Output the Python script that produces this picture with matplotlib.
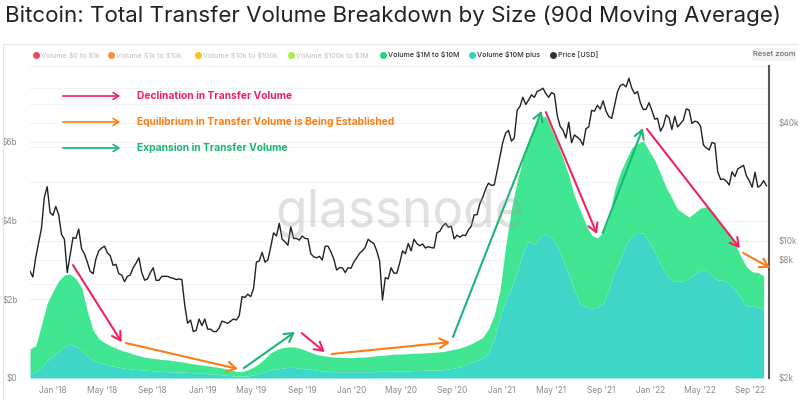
import numpy as np
import pandas as pd
import matplotlib
matplotlib.use("Agg")
import matplotlib.pyplot as plt
import matplotlib.dates as mdates
from matplotlib.lines import Line2D
from matplotlib.patches import Rectangle, FancyBboxPatch, FancyArrowPatch
from matplotlib.transforms import blended_transform_factory

plt.rcParams['font.family'] = ['Inter', 'DejaVu Sans']

# --- data -------------------------------------------------------------
# BTC price, weekly from 2017-11-06
price_2017 = [7000, 6550, 8250, 9800, 11600, 16700, 18900, 14000]
price_2018 = [13500, 15000, 13600, 10800, 10200, 6900, 8500, 10400, 10300,
              11500, 9100, 8600, 7800, 7000, 6800, 8100, 8900, 9200, 9400,
              8700, 8400, 7500, 7600, 6800, 6700, 6200, 6600, 6700, 7300,
              7700, 8200, 6900, 6300, 6400, 6900, 7300, 6300, 6300, 6600,
              6600, 6600, 6500, 6450, 6350, 6400, 6350, 4700, 3800, 3950,
              3450, 3500, 4000, 3700]
price_2019 = [4000, 3550, 3550, 3450, 3450, 3600, 3900, 3850, 3800, 3900,
              4000, 3950, 4150, 5200, 5150, 5350, 5200, 5700, 7800, 7900,
              8750, 7800, 8000, 9300, 11000, 10600, 12300, 10200, 9900, 9500,
              11800, 10300, 10300, 10100, 10600, 10300, 10250, 8600, 8300,
              8200, 8350, 8000, 9400, 9400, 8800, 8100, 7100, 7300, 7300,
              6900, 7300, 7250]
price_2020 = [7800, 8200, 8650, 8900, 9300, 10200, 9900, 9700, 8900, 7900,
              5000, 6500, 6400, 7300, 6850, 6850, 7700, 8900, 8600, 9700,
              8900, 10200, 9700, 9450, 9650, 9200, 9350, 9250, 9200, 11000,
              11200, 11900, 12300, 11750, 11900, 10250, 10700, 10450, 10700,
              10650, 11400, 11900, 13600, 13600, 15500, 16700, 18400, 19700,
              19200, 19300, 22700, 27000]
price_2021 = [31900, 35500, 36600, 32300, 33500, 46400, 48600, 54000, 49600,
              52300, 55600, 54000, 57900, 58700, 60100, 56500, 54000, 57100,
              56000, 43500, 38400, 36700, 33500, 40300, 31700, 34700, 33800,
              32800, 30800, 37300, 38200, 46300, 45900, 49200, 47000, 51800,
              46000, 43000, 42200, 49100, 57500, 62000, 63000, 61000, 67500,
              60200, 56300, 57800, 50600, 46800, 46900, 50700]
price_2022 = [46400, 41800, 42200, 36300, 38500, 43900, 42500, 37000, 43200,
              38100, 39700, 41300, 47100, 46600, 39700, 40800, 40400, 38500,
              30900, 29800, 29100, 31800, 31400, 22500, 20600, 20700, 20200,
              19300, 22500, 21300, 23300, 23800, 24300, 21500, 20300, 18800,
              22400, 18800, 19200, 20300, 19100]
price = price_2017 + price_2018 + price_2019 + price_2020 + price_2021 + price_2022
price_dates = pd.date_range("2017-11-06", periods=len(price), freq="7D")

# transfer volume (90d MA), USD billions, every 14 days from 2017-11-06
vol_10m_plus = [
    0.13, 0.15, 0.28, 0.44, 0.56, 0.68, 0.80, 0.86, 0.80, 0.72,
    0.55, 0.45, 0.39, 0.35, 0.31, 0.29, 0.26, 0.24, 0.22, 0.21,
    0.20, 0.19, 0.18, 0.17, 0.16, 0.16, 0.15, 0.15, 0.14, 0.13,
    0.13, 0.11, 0.10, 0.09, 0.07, 0.06, 0.05, 0.05, 0.05, 0.08,
    0.12, 0.16, 0.20, 0.23, 0.25, 0.27, 0.27, 0.25, 0.23, 0.22,
    0.20, 0.18, 0.17, 0.16, 0.16, 0.16, 0.16, 0.16, 0.16, 0.16,
    0.16, 0.17, 0.17, 0.17, 0.18, 0.18, 0.18, 0.19, 0.19, 0.20,
    0.20, 0.20, 0.21, 0.23, 0.25, 0.28, 0.34, 0.40, 0.45, 0.50,
    0.65, 1.00, 1.55, 2.00, 2.30, 2.67, 3.20, 3.48, 3.40, 3.58,
    3.66, 3.58, 3.35, 3.00, 2.65, 2.20, 1.88, 1.80, 1.78, 1.80,
    1.90, 2.25, 2.70, 3.00, 3.40, 3.60, 3.70, 3.68, 3.47, 3.20,
    2.90, 2.62, 2.48, 2.45, 2.47, 2.54, 2.64, 2.75, 2.75, 2.60,
    2.49, 2.49, 2.38, 2.25, 2.04, 1.82, 1.84, 1.80, 1.74]
# top of the stack ($1M to $10M on top of $10M plus)
vol_1m_plus = [
    0.74, 0.82, 1.35, 1.90, 2.20, 2.47, 2.62, 2.64, 2.53, 2.30,
    1.70, 1.22, 1.00, 0.90, 0.82, 0.76, 0.70, 0.66, 0.61, 0.57,
    0.53, 0.51, 0.49, 0.47, 0.46, 0.44, 0.42, 0.40, 0.37, 0.35,
    0.33, 0.31, 0.29, 0.27, 0.24, 0.21, 0.17, 0.16, 0.21, 0.28,
    0.37, 0.50, 0.64, 0.72, 0.77, 0.79, 0.79, 0.76, 0.71, 0.65,
    0.60, 0.57, 0.55, 0.53, 0.53, 0.52, 0.52, 0.53, 0.53, 0.54,
    0.56, 0.57, 0.58, 0.60, 0.61, 0.61, 0.62, 0.63, 0.63, 0.64,
    0.65, 0.66, 0.67, 0.70, 0.73, 0.76, 0.81, 0.87, 0.95, 1.03,
    1.25, 1.60, 2.22, 3.35, 4.30, 5.00, 5.55, 5.97, 6.35, 6.63,
    6.65, 6.30, 5.97, 5.58, 5.15, 4.62, 4.27, 3.90, 3.63, 3.56,
    3.70, 4.05, 4.78, 5.22, 5.55, 5.85, 5.96, 6.03, 5.78, 5.54,
    5.20, 4.85, 4.57, 4.29, 4.19, 4.09, 4.20, 4.32, 4.35, 4.25,
    4.02, 3.85, 3.67, 3.43, 3.10, 2.83, 2.70, 2.68, 2.60]
vol_dates = pd.date_range("2017-11-06", periods=len(vol_10m_plus), freq="14D")

# annotation arrows: (start date, start $b, end date, end $b)
arrows_decline = [("2018-02-19", 2.87, "2018-06-18", 0.91),
                  ("2019-09-01", 1.14, "2019-10-27", 0.66),
                  ("2021-04-19", 6.76, "2021-08-22", 3.66),
                  ("2021-12-22", 6.33, "2022-08-06", 3.30)]
arrows_equil = [("2018-06-28", 0.89, "2019-03-29", 0.23),
                ("2019-11-13", 0.61, "2020-08-28", 0.91),
                ("2022-08-14", 3.18, "2022-10-19", 2.80)]
arrows_expand = [("2019-04-12", 0.25, "2019-08-15", 1.17),
                 ("2020-09-04", 1.04, "2021-04-09", 6.79),
                 ("2021-09-05", 3.68, "2021-12-12", 6.35)]

legend_names = ["Volume $0 to $1k", "Volume $1k to $10k", "Volume $10k to $100k",
                "Volume $100k to $1M", "Volume $1M to $10M", "Volume $10M plus",
                "Price [USD]"]
legend_colors = ["#f5455c", "#fb8c3c", "#fcc419", "#a6ee45", "#1fd67e",
                 "#2fd3c2", "#333333"]
legend_active = [False, False, False, False, True, True, True]

C_GREEN = "#41e693"
C_TEAL = "#3fd8c8"
C_PINK = "#f2225f"
C_ORANGE = "#fb7d16"
C_EXP = "#1bb574"

# --- figure -----------------------------------------------------------
fig = plt.figure(figsize=(7.99, 4.0), dpi=100)
W, H = 799, 400

# card border
fig.add_artist(Rectangle((3 / W, -0.05), 1.2, 1 - 44 / H + 0.05, transform=fig.transFigure,
                         fill=False, edgecolor="#e6e6e6", lw=0.8))

fig.text(5 / W, 1 - 16 / H, "Bitcoin: Total Transfer Volume Breakdown by Size (90d Moving Average)",
         fontsize=16.1, color="#222222", va="center", ha="left")

ax = fig.add_axes([30 / W, 22 / H, 738.5 / W, 312 / H])
ax2 = ax.twinx()

x0 = pd.Timestamp("2017-11-06")
x1 = pd.Timestamp("2022-10-15")
ax.set_xlim(x0, x1)
ax.set_ylim(0, 7.93)
ax2.set_yscale("log")
ax2.set_ylim(2000, 78000)

# grid lines (left axis and right axis), both behind the areas
for v in [2, 4, 6, 7.93]:
    ax.axhline(v, color="#efefef", lw=0.8, zorder=0)
gtrans = blended_transform_factory(ax.transAxes, ax2.transData)
for p in [6000, 8000, 10000, 20000, 30000, 40000, 50000, 60000]:
    ax.plot([0, 1], [p, p], transform=gtrans, color="#f2f2f2", lw=0.8, zorder=0)

ax.fill_between(vol_dates, 0, vol_10m_plus, color=C_TEAL, lw=0, zorder=2)
ax.fill_between(vol_dates, vol_10m_plus, vol_1m_plus, color=C_GREEN, lw=0, zorder=2)

ax2.plot(price_dates, price, color="#222222", lw=1.0, zorder=3)

# arrows on top
for group, col in [(arrows_decline, C_PINK), (arrows_equil, C_ORANGE), (arrows_expand, C_EXP)]:
    for d0, v0, d1, v1 in group:
        ax2.annotate("", xy=(mdates.date2num(pd.Timestamp(d1)), v1),
                     xytext=(mdates.date2num(pd.Timestamp(d0)), v0),
                     xycoords=ax.transData, textcoords=ax.transData,
                     arrowprops=dict(arrowstyle="->,head_length=0.6,head_width=0.35",
                                     color=col, lw=1.5, shrinkA=0, shrinkB=0),
                     annotation_clip=False, zorder=5)

# axes styling
for a in (ax, ax2):
    for s in ["top", "left", "bottom"]:
        a.spines[s].set_visible(False)
ax.spines["right"].set_visible(False)
ax2.spines["right"].set_color("#555555")
ax2.spines["right"].set_linewidth(1.5)

ax.set_yticks([0, 2, 4, 6])
ax.set_yticklabels(["$0", "$2b", "$4b", "$6b"])
ax2.set_yticks([2000, 8000, 10000, 40000])
ax2.set_yticklabels(["$2k", "$8k", "$10k", "$40k"])
ax2.yaxis.set_minor_locator(matplotlib.ticker.NullLocator())
ax.xaxis.set_major_locator(mdates.MonthLocator(bymonth=[1, 5, 9]))
ax.xaxis.set_major_formatter(mdates.DateFormatter("%b '%y"))
ax.tick_params(axis="both", length=0, labelsize=6, labelcolor="#8a8a8a")
ax.tick_params(axis="y", pad=9)
ax.tick_params(axis="x", pad=6)
ax2.tick_params(axis="y", length=0, labelsize=6, labelcolor="#8a8a8a", pad=7)

# legend row
leg_x = [36, 111, 198, 291, 383, 472, 553]
for xp, name, col, act in zip(leg_x, legend_names, legend_colors, legend_active):
    fig.add_artist(Line2D([xp / W], [1 - 55 / H], marker="o", markersize=4, color=col,
                          lw=0, transform=fig.transFigure))
    fig.text((xp + 5) / W, 1 - 55 / H, name, fontsize=5.2, va="center", ha="left",
             color="#333333" if act else "#bdbdbd", fontweight="medium" if act else "normal",
             parse_math=False)

fig.add_artist(FancyBboxPatch((752 / W, 1 - 61 / H), 44 / W, 13 / H, transform=fig.transFigure,
                              boxstyle="round,pad=0,rounding_size=0.005", facecolor="#f3f3f3",
                              edgecolor="none"))
fig.text(774 / W, 1 - 54.5 / H, "Reset zoom", fontsize=5.5, color="#555555", ha="center", va="center")

# annotation legend
notes = [("Declination in Transfer Volume", C_PINK, 96),
         ("Equilibrium in Transfer Volume is Being Established", C_ORANGE, 122),
         ("Expansion in Transfer Volume", C_EXP, 148)]
for label, col, yp in notes:
    fig.add_artist(FancyArrowPatch(
        (60 / W, 1 - yp / H), (123 / W, 1 - yp / H), transform=fig.transFigure,
        arrowstyle="->,head_length=0.4,head_width=0.25", color=col, lw=1.2,
        mutation_scale=10))
    fig.text(137 / W, 1 - yp / H, label, fontsize=7.4, fontweight="bold", color=col,
             va="center", ha="left")

# watermark
fig.text(400 / W, 1 - 213 / H, "glassnode", fontsize=37, color="#9a9a9a", alpha=0.3,
         ha="center", va="center", zorder=10)

fig.savefig("out.png", dpi=100)
